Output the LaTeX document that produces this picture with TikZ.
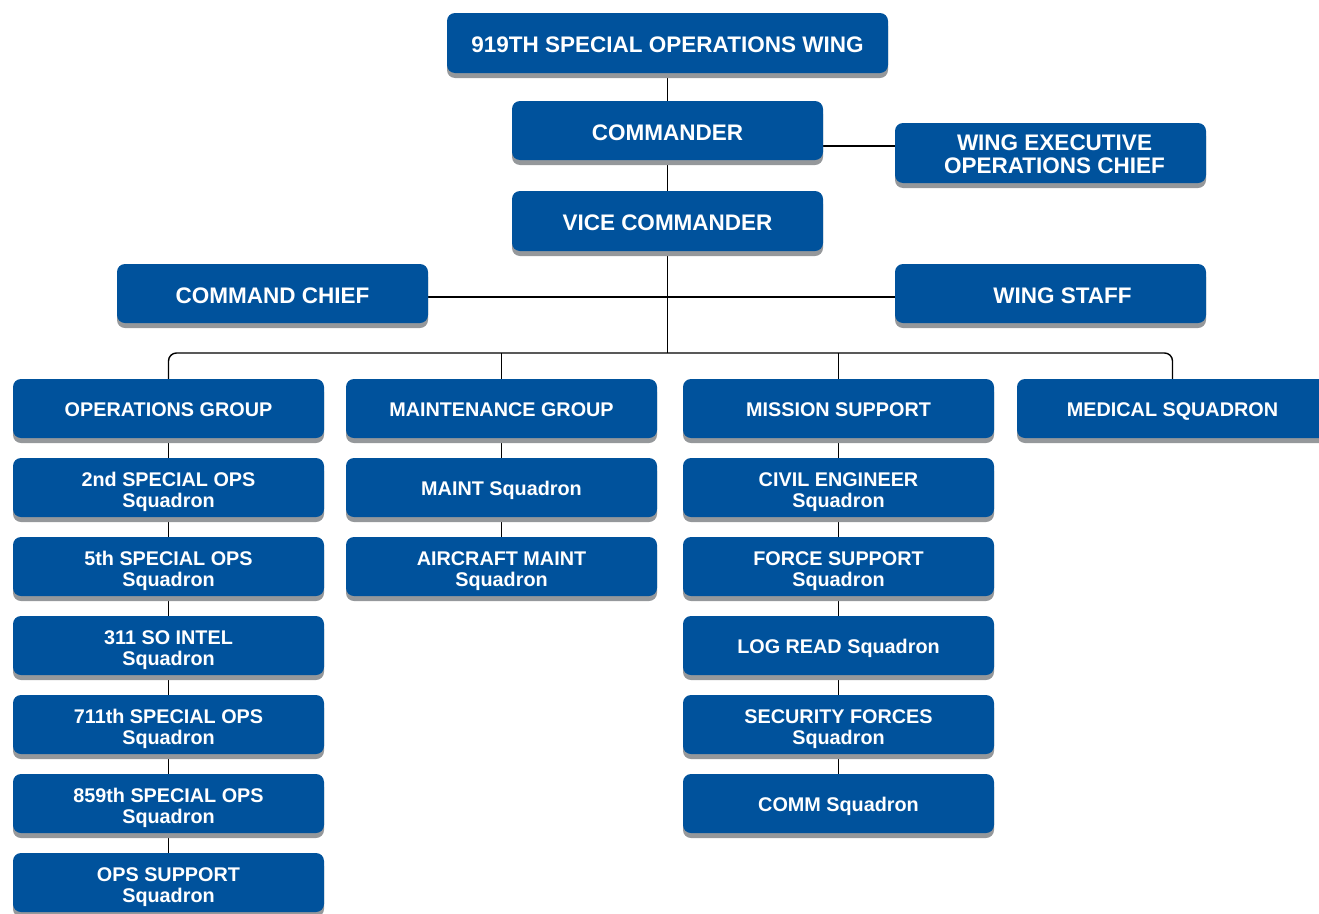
\documentclass[tikz,border=0pt]{standalone}
\usepackage{fontspec}
\setmainfont{Liberation Sans}
\usetikzlibrary{shadows,backgrounds}
\definecolor{wingblue}{HTML}{00529C}
\definecolor{shadowgray}{HTML}{95989B}
\begin{document}
\begin{tikzpicture}[x=1pt,y=-1pt,
  orgbox/.style={draw=none,fill=wingblue,text=white,rounded corners=8pt,
    minimum width=311pt,minimum height=59pt,inner sep=0pt,align=center,
    font=\bfseries\fontsize{19.8}{21}\selectfont,text height=15pt,text depth=0pt,
    drop shadow={shadow xshift=0pt,shadow yshift=-5pt,fill=shadowgray,opacity=1}},
  twoline/.style={text height=39.2pt,text depth=0pt},
  bigbox/.style={orgbox,font=\bfseries\fontsize{22.5}{23}\selectfont,text height=19pt},
  link/.style={draw=black,line width=1.4pt}]
\useasboundingbox (0,0) rectangle (1319,913);
% top of the wing
\node[bigbox,minimum width=441pt,minimum height=60pt] (wing) at (667.5,43) {919TH SPECIAL OPERATIONS WING};
\node[bigbox] (cmdr) at (667.5,130.5) {COMMANDER};
\node[bigbox,minimum height=60pt,text height=40pt] (exec) at (1050.5,153) {\hspace*{8pt}WING EXECUTIVE\\\hspace*{8pt}OPERATIONS CHIEF};
\node[bigbox,minimum height=60pt] (vice) at (667.5,221) {VICE COMMANDER};
\node[bigbox] (chief) at (272.5,293.5) {COMMAND CHIEF};
\node[bigbox] (staff) at (1050.5,293.5) {\hspace*{24pt}WING STAFF};
% groups
\foreach \name/\x/\txt in {ops/168.5/OPERATIONS GROUP,maint/501.5/MAINTENANCE GROUP,
  mss/838.5/MISSION SUPPORT,med/1172.5/MEDICAL SQUADRON}
{
  \node[orgbox] (\name) at (\x,408.5) {\txt};
}
% squadrons
\foreach \i/\txt in {1/{2nd SPECIAL OPS\\Squadron},2/{5th SPECIAL OPS\\Squadron},
  3/{311 SO INTEL\\Squadron},4/{711th SPECIAL OPS\\Squadron},
  5/{859th SPECIAL OPS\\Squadron},6/{OPS SUPPORT\\Squadron}}
{
  \node[orgbox,twoline] (ops\i) at (168.5,{408.5+79*\i}) {\txt};
}
\node[orgbox] (maint1) at (501.5,487.5) {MAINT Squadron};
\node[orgbox,twoline] (maint2) at (501.5,566.5) {AIRCRAFT MAINT\\Squadron};
\foreach \i/\txt in {1/{CIVIL ENGINEER\\Squadron},2/{FORCE SUPPORT\\Squadron},
  4/{SECURITY FORCES\\Squadron}}
{
  \node[orgbox,twoline] (mss\i) at (838.5,{408.5+79*\i}) {\txt};
}
\node[orgbox] (mss3) at (838.5,645.5) {LOG READ Squadron};
\node[orgbox] (mss5) at (838.5,803.5) {COMM Squadron};
\coordinate (bus) at (667.5,353);
\begin{scope}[on background layer]
\draw[link] (wing) -- (cmdr) -- (vice) -- (bus);
\draw[link] ([yshift=-15.5pt]cmdr.east) -- ([yshift=-15.5pt]cmdr.east -| exec.west);
\draw[link] ([yshift=-3.5pt]chief.east) -- ([yshift=-3.5pt]chief.east -| staff.west);
\draw[link,rounded corners=8pt] (ops.north) |- (bus) -| (med.north);
\draw[link] (maint.north) -- (maint.north |- bus);
\draw[link] (mss.north) -- (mss.north |- bus);
\draw[link] (ops) -- (ops1) -- (ops2) -- (ops3) -- (ops4) -- (ops5) -- (ops6);
\draw[link] (maint) -- (maint1) -- (maint2);
\draw[link] (mss) -- (mss1) -- (mss2) -- (mss3) -- (mss4) -- (mss5);
\end{scope}
\end{tikzpicture}
\end{document}
